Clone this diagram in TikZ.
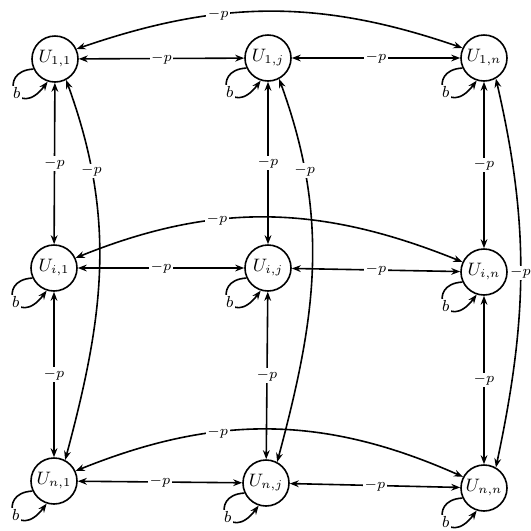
\documentclass[tikz,border=0pt]{standalone}
\usetikzlibrary{arrows.meta}
\begin{document}
\begin{tikzpicture}[x=0.5pt,y=0.5pt,
  tip/.tip={Stealth[length=4.5pt,width=3.4pt]},
  state/.style={circle,draw,line width=0.8pt,minimum size=23pt,inner sep=0pt,font=\small},
  link/.style={line width=0.8pt,tip-tip},
  wt/.style={fill=white,inner sep=0.7pt,font=\scriptsize},
  selfloop/.style={line width=0.8pt,-tip}]
\useasboundingbox (0,0) rectangle (531,-531);

% grid of states
\node[state] (a11) at (55,-59)  {$U_{1,1}$};
\node[state] (a1j) at (268,-58) {$U_{1,j}$};
\node[state] (a1n) at (484,-58) {$U_{1,n}$};
\node[state] (ai1) at (54,-268) {$U_{i,1}$};
\node[state] (aij) at (268,-268) {$U_{i,j}$};
\node[state] (ain) at (484,-272) {$U_{i,n}$};
\node[state] (an1) at (54,-481) {$U_{n,1}$};
\node[state] (anj) at (266,-483) {$U_{n,j}$};
\node[state] (ann) at (484,-488) {$U_{n,n}$};

% neighbours along each row
\draw[link] (a11) -- node[wt]{$-p$} (a1j);
\draw[link] (a1j) -- node[wt]{$-p$} (a1n);
\draw[link] (ai1) -- node[wt]{$-p$} (aij);
\draw[link] (aij) -- node[wt]{$-p$} (ain);
\draw[link] (an1) -- node[wt]{$-p$} (anj);
\draw[link] (anj) -- node[wt]{$-p$} (ann);

% neighbours along each column
\draw[link] (a11) -- node[wt]{$-p$} (ai1);
\draw[link] (ai1) -- node[wt]{$-p$} (an1);
\draw[link] (a1j) -- node[wt]{$-p$} (aij);
\draw[link] (aij) -- node[wt]{$-p$} (anj);
\draw[link] (a1n) -- node[wt]{$-p$} (ain);
\draw[link] (ain) -- node[wt]{$-p$} (ann);

% wrap-around links of each row
\draw[link] (a1n.155) to[out=161,in=19] node[wt,pos=0.64]{$-p$} (a11.25);
\draw[link] (ain.155) to[out=158,in=22] node[wt,pos=0.64]{$-p$} (ai1.25);
\draw[link] (ann.152) to[out=156,in=22] node[wt,pos=0.64]{$-p$} (an1.25);

% wrap-around links of each column
\draw[link] (a11.-62) to[out=-70,in=75] node[wt,pos=0.23]{$-p$} (an1.62);
\draw[link] (a1j.-62) to[out=-70,in=75] node[wt,pos=0.23]{$-p$} (anj.62);
\draw[link] (a1n.-60) to[out=-77,in=78] node[wt,pos=0.5]{$-p$} (ann.60);

% self loops
\foreach \s in {a11,a1j,a1n,ai1,aij,ain,an1,anj,ann}
  \draw[selfloop] (\s.205) .. controls +(-38,-2) and +(-30,-40) ..
    node[wt,pos=0.55,font=\footnotesize]{$b$} (\s.252);
\end{tikzpicture}
\end{document}
